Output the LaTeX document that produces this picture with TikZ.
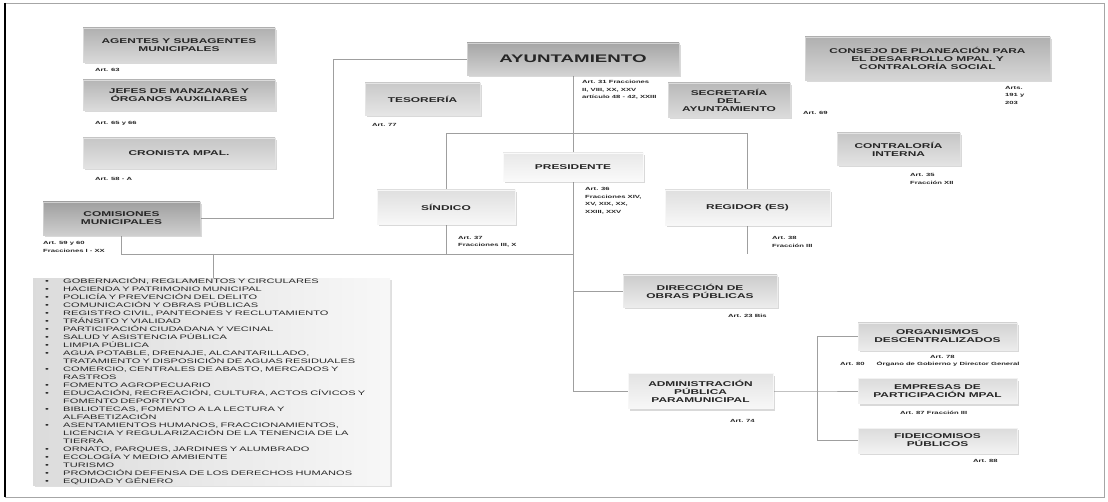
\documentclass[tikz,border=0pt]{standalone}
\usepackage{fontspec}
\setmainfont{Liberation Sans}[FakeStretch=1.7]
\usetikzlibrary{shadows,backgrounds}

\newcommand{\vineta}{\makebox[18pt][l]{•}}
\newcommand{\sangria}{\hspace*{18pt}}

\begin{document}
\begin{tikzpicture}[x=1pt,y=-1pt,
	box/.style 2 args={draw=gray!#2, top color=gray!#1, bottom color=gray!#2, drop shadow={opacity=0.3,shadow xshift=1.5pt,shadow yshift=-2pt}, text=black!85, font=\fontsize{7}{8}\selectfont\bfseries, align=center, inner sep=0pt},
	art/.style={anchor=west, align=left, inner sep=0pt, text=black!85, font=\fontsize{4.5}{7.5}\selectfont\bfseries},
	linea/.style={draw=gray!75, line width=0.8pt}]
	\useasboundingbox (0,0) rectangle (1108,502);
	\draw[gray!70, line width=0.8pt] (5,3) rectangle (1104,497);
	\draw[line width=2pt] (5,3) -- (5,497);

	\node[box={62}{30}, minimum width=192, minimum height=34] (agentes) at (179,45) {AGENTES Y SUBAGENTES\\MUNICIPALES};
	\node[art] (a63) at (95,70) {Art. 63};
	\node[box={58}{28}, minimum width=192, minimum height=30] (jefes) at (179,95) {JEFES DE MANZANAS Y\\ÓRGANOS AUXILIARES};
	\node[art] (a65) at (95,123) {Art. 65 y 66};
	\node[box={45}{22}, minimum width=192, minimum height=30] (cronista) at (179,153) {CRONISTA MPAL.};
	\node[art] (a58) at (95,179) {Art. 58 - A};
	\node[box={75}{38}, minimum width=157, minimum height=33] (comisiones) at (121.5,218.5) {COMISIONES\\MUNICIPALES};
	\node[art] (a59) at (43,247) {Art. 59 y 60\\Fracciones I - XX};

	\node[box={70}{35}, minimum width=212, minimum height=32, font=\fontsize{11}{12}\selectfont\bfseries] (ayuntamiento) at (573,59) {AYUNTAMIENTO};
	\node[art] (a31) at (582,90) {Art. 31 Fracciones\\II, VIII, XX, XXV\\artículo 48 - 42, XXIII};
	\node[box={42}{20}, minimum width=115, minimum height=32] (tesoreria) at (422.5,99) {TESORERÍA};
	\node[art] (a77) at (372,125) {Art. 77};
	\node[box={55}{28}, minimum width=122, minimum height=34] (secretaria) at (729,100) {SECRETARÍA\\DEL\\AYUNTAMIENTO};
	\node[art] (a69) at (803,113) {Art. 69};
	\node[box={62}{32}, minimum width=245, minimum height=43] (consejo) at (927.5,58.5) {CONSEJO DE PLANEACIÓN PARA\\EL DESARROLLO MPAL. Y\\CONTRALORÍA SOCIAL};
	\node[art] (a191) at (1005,95) {Arts.\\191 y\\203};
	\node[box={45}{22}, minimum width=123, minimum height=32] (contraloria) at (898.5,149) {CONTRALORÍA\\INTERNA};
	\node[art] (a35) at (910,179) {Art. 35\\Fracción XII};

	\node[box={18}{4}, minimum width=140, minimum height=28] (presidente) at (573,167) {PRESIDENTE};
	\node[art] (a36) at (585,201) {Art. 36\\Fracciones XIV,\\XV, XIX, XX,\\XXIII, XXV};
	\node[box={25}{6}, minimum width=138, minimum height=34] (sindico) at (446,207) {SÍNDICO};
	\node[art] (a37) at (458,242) {Art. 37\\Fracciones III, X};
	\node[box={25}{6}, minimum width=165, minimum height=35] (regidor) at (747.5,207.5) {REGIDOR (ES)};
	\node[art] (a38) at (772,242) {Art. 38\\Fracción III};

	\node[box={40}{15}, minimum width=154, minimum height=32] (obras) at (700,291) {DIRECCIÓN DE\\OBRAS PÚBLICAS};
	\node[art] (a23) at (728,316) {Art. 23 Bis};
	\node[box={22}{6}, minimum width=145, minimum height=35] (paramunicipal) at (700.5,391) {ADMINISTRACIÓN\\PÚBLICA\\PARAMUNICIPAL};
	\node[art] (a74) at (730,421) {Art. 74};
	\node[box={35}{15}, minimum width=159, minimum height=27] (organismos) at (937.5,336.5) {ORGANISMOS\\DESCENTRALIZADOS};
	\node[art] (a78) at (930,357) {Art. 78};
	\node[art] (a80) at (840,364) {Art. 80\hspace{12pt}Órgano de Gobierno y Director General};
	\node[box={28}{10}, minimum width=159, minimum height=25] (empresas) at (937.5,391) {EMPRESAS DE\\PARTICIPACIÓN MPAL};
	\node[art] (a87) at (900,413) {Art. 87 Fracción III};
	\node[box={28}{10}, minimum width=159, minimum height=25] (fideicomisos) at (937.5,440.5) {FIDEICOMISOS\\PÚBLICOS};
	\node[art] (a88) at (973,461) {Art. 88};

	\node[anchor=north west, left color=gray!28, right color=gray!6, drop shadow={opacity=0.25,shadow xshift=1.5pt,shadow yshift=-2pt},
		minimum height=207, text width=333, inner xsep=12, inner ysep=0, align=left, text=black!85,
		font=\fontsize{6.5}{8}\selectfont] (lista) at (33,278) {%
		\vineta GOBERNACIÓN, REGLAMENTOS Y CIRCULARES\\
		\vineta HACIENDA Y PATRIMONIO MUNICIPAL\\
		\vineta POLICÍA Y PREVENCIÓN DEL DELITO\\
		\vineta COMUNICACIÓN Y OBRAS PÚBLICAS\\
		\vineta REGISTRO CIVIL, PANTEONES Y RECLUTAMIENTO\\
		\vineta TRÁNSITO Y VIALIDAD\\
		\vineta PARTICIPACIÓN CIUDADANA Y VECINAL\\
		\vineta SALUD Y ASISTENCIA PÚBLICA\\
		\vineta LIMPIA PÚBLICA\\
		\vineta AGUA POTABLE, DRENAJE, ALCANTARILLADO,\\
		\sangria TRATAMIENTO Y DISPOSICIÓN DE AGUAS RESIDUALES\\
		\vineta COMERCIO, CENTRALES DE ABASTO, MERCADOS Y\\
		\sangria RASTROS\\
		\vineta FOMENTO AGROPECUARIO\\
		\vineta EDUCACIÓN, RECREACIÓN, CULTURA, ACTOS CÍVICOS Y\\
		\sangria FOMENTO DEPORTIVO\\
		\vineta BIBLIOTECAS, FOMENTO A LA LECTURA Y\\
		\sangria ALFABETIZACIÓN\\
		\vineta ASENTAMIENTOS HUMANOS, FRACCIONAMIENTOS,\\
		\sangria LICENCIA Y REGULARIZACIÓN DE LA TENENCIA DE LA\\
		\sangria TIERRA\\
		\vineta ORNATO, PARQUES, JARDINES Y ALUMBRADO\\
		\vineta ECOLOGÍA Y MEDIO AMBIENTE\\
		\vineta TURISMO\\
		\vineta PROMOCIÓN DEFENSA DE LOS DERECHOS HUMANOS\\
		\vineta EQUIDAD Y GÉNERO};

	\begin{scope}[on background layer]
		\coordinate (barra) at (0,133);
		\coordinate (barra2) at (0,254);
		\coordinate (bajada) at (213,254);
		\coordinate (ramal) at (817,391);
		\draw[linea] (ayuntamiento.west) -- ++(-133,0) |- (comisiones.east);
		\draw[linea] (ayuntamiento.south) -- (ayuntamiento.south |- paramunicipal.west) -- (paramunicipal.west);
		\draw[linea] (ayuntamiento.south |- obras.west) -- (obras.west);
		\draw[linea] (sindico.north) -- (sindico.north |- barra) -| (regidor.north);
		\draw[linea] (sindico.south) -- (sindico.south |- barra2);
		\draw[linea] (regidor.south) -- (regidor.south |- barra2);
		\draw[linea] (comisiones.south) -- (comisiones.south |- barra2) -- (ayuntamiento.south |- barra2);
		\draw[linea] (bajada) -- (bajada |- lista.north);
		\draw[linea] (paramunicipal.east) -- (ramal) -- (empresas.west);
		\draw[linea] (ramal |- organismos.west) -- (organismos.west);
		\draw[linea] (ramal |- organismos.west) -- (ramal |- fideicomisos.west) -- (fideicomisos.west);
	\end{scope}
\end{tikzpicture}
\end{document}
